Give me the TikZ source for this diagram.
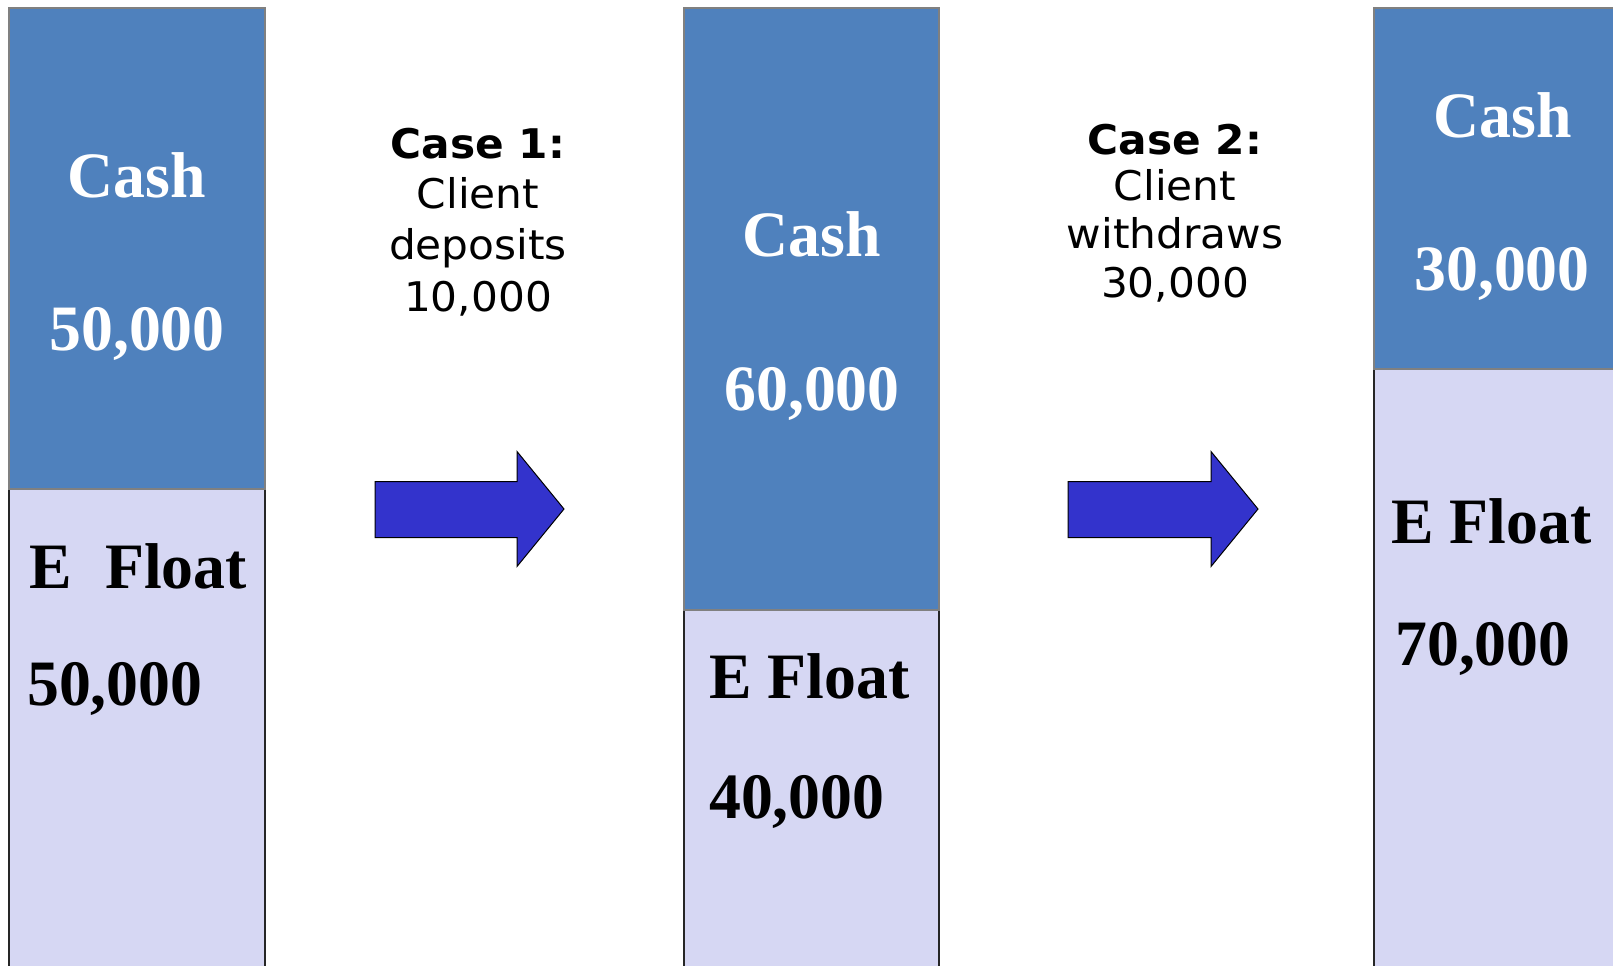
\documentclass[tikz,border=0pt]{standalone}
\usepackage{fontspec}
\setmainfont{Liberation Serif}
\newfontfamily\labelfont[FakeStretch=0.985]{Liberation Serif}
\newfontfamily\casefont[FakeStretch=1.035]{DejaVu Sans}
\definecolor{cashblue}{HTML}{4F81BD}
\definecolor{floatlilac}{HTML}{D6D7F3}
\definecolor{arrowblue}{HTML}{3333CC}
\definecolor{edgegray}{HTML}{808080}
\tikzset{
  cashpart/.style={fill=cashblue, draw=edgegray, line width=1.5pt},
  floatpart/.style={fill=floatlilac, draw=black!85, line width=1.5pt},
  blockarrow/.style={fill=arrowblue, draw=black, line width=1pt, line join=miter},
  cashtext/.style={inner sep=0pt, text=white, font=\labelfont\bfseries\fontsize{65}{70}\selectfont},
  floattext/.style={inner sep=0pt, text=black, anchor=base west, font=\labelfont\bfseries\fontsize{65}{70}\selectfont},
  casetext/.style={inner sep=0pt, anchor=base, font=\casefont\fontsize{41}{48}\selectfont}
}
\begin{document}
\begin{tikzpicture}[x=1bp, y=-1bp]
\clip (0,0) rectangle (1613,965);
\fill[white] (0,0) rectangle (1613,965);

% account columns: cash on top, e-float below
\draw[floatpart] (9,489) rectangle (265,990);
\draw[cashpart] (9,8) rectangle (265,489);
\draw[floatpart] (684,610) rectangle (939,990);
\draw[cashpart] (684,8) rectangle (939,610);
\draw[floatpart] (1374,369) rectangle (1629,990);
\draw[cashpart] (1374,8) rectangle (1629,369);

% first column
\node[cashtext, anchor=base] (c1cash) at (137,197) {Cash};
\node[cashtext, anchor=base] (c1amt) at (137,350) {50,000};
\node[floattext] (f1lab) at (29,588) {E\hspace{0.27em} Float};
\node[floattext] (f1amt) at (27,705) {50,000};

% second column
\node[cashtext, anchor=base] (c2cash) at (812,256) {Cash};
\node[cashtext, anchor=base] (c2amt) at (812,410) {60,000};
\node[floattext] (f2lab) at (709,698) {E Float};
\node[floattext] (f2amt) at (709,818) {40,000};

% third column
\node[cashtext, anchor=base] (c3cash) at (1503,137) {Cash};
\node[cashtext, anchor=base] (c3amt) at (1502,290) {30,000};
\node[floattext] (f3lab) at (1391,543) {E Float};
\node[floattext] (f3amt) at (1395,665) {70,000};

% case 1: deposit
\node[casetext] (k1a) at (478,158) {\bfseries Case 1:};
\node[casetext] (k1b) at (478,208) {Client};
\node[casetext] (k1c) at (478,259) {deposits};
\node[casetext] (k1d) at (478,311) {10,000};

% case 2: withdrawal
\node[casetext] (k2a) at (1175,154) {\bfseries Case 2:};
\node[casetext] (k2b) at (1175,200) {Client};
\node[casetext] (k2c) at (1175,248) {withdraws};
\node[casetext] (k2d) at (1175,297) {30,000};

% block arrows between the columns
\draw[blockarrow] (375,481.5) -- (517,481.5) -- (517,451.5) -- (564,509)
  -- (517,566.5) -- (517,537.5) -- (375,537.5) -- cycle;
\draw[blockarrow] (1068,481.5) -- (1211,481.5) -- (1211,451.5) -- (1258,509)
  -- (1211,566.5) -- (1211,537.5) -- (1068,537.5) -- cycle;
\end{tikzpicture}
\end{document}
